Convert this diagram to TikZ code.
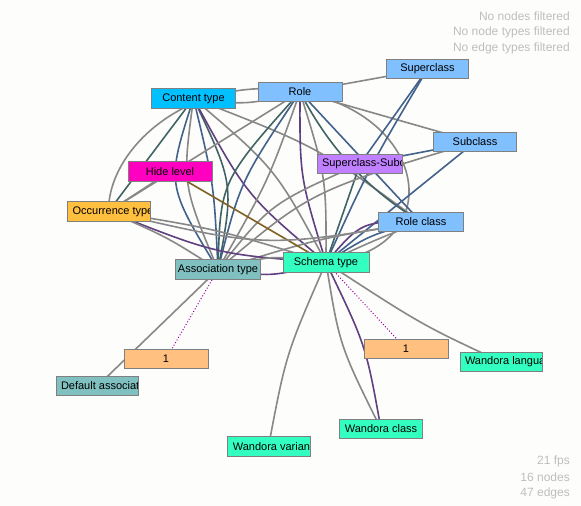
\documentclass[tikz,border=0pt]{standalone}
\usepackage{fontspec}
\setmainfont{Liberation Sans}
\usetikzlibrary{backgrounds}
\definecolor{bgc}{RGB}{253,253,252}
\definecolor{bordc}{RGB}{128,128,128}
\definecolor{egray}{RGB}{136,136,136}
\definecolor{eteal}{RGB}{64,100,100}
\definecolor{eblue}{RGB}{66,98,140}
\definecolor{epurp}{RGB}{96,64,128}
\definecolor{ebrown}{RGB}{128,96,32}
\definecolor{edot}{RGB}{160,0,160}
\definecolor{hdr}{RGB}{190,190,190}
\definecolor{cContent}{RGB}{0,192,255}
\definecolor{cRole}{RGB}{128,192,255}
\definecolor{cSSC}{RGB}{192,128,255}
\definecolor{cHide}{RGB}{255,0,192}
\definecolor{cOcc}{RGB}{255,192,64}
\definecolor{cAssoc}{RGB}{128,192,192}
\definecolor{cSchema}{RGB}{51,255,192}
\definecolor{cOne}{RGB}{255,192,128}
\begin{document}
\begin{tikzpicture}[x=1pt,y=-1pt,
  box/.style={draw=bordc, line width=1pt, minimum width=84pt, minimum height=19.5pt, inner sep=0pt, font=\fontsize{11}{13}\selectfont},
  cliptext/.style={path picture={\node[anchor=west,inner sep=0pt,font=\fontsize{11}{13}\selectfont] at ([xshift=4pt]path picture bounding box.west) {#1};}},
  ge/.style={draw=egray, line width=1.6pt},
  te/.style={draw=eteal, line width=1.6pt},
  be/.style={draw=eblue, line width=1.6pt},
  pe/.style={draw=epurp, line width=1.6pt},
  bre/.style={draw=ebrown, line width=1.6pt},
  de/.style={draw=edot, line width=1pt, dash pattern=on 1pt off 2pt},
  hdrtext/.style={anchor=east, inner sep=0pt, text=hdr, font=\fontsize{12}{14}\selectfont}]
\useasboundingbox (0,0) rectangle (581,506);
% nodes
\node[box, fill=cContent] (C) at (193.5,98.5) {Content type};
\node[box, fill=cRole] (R) at (300,92) {Role};
\node[box, fill=cRole, minimum width=82pt] (Sup) at (427.5,69) {Superclass};
\node[box, fill=cRole, minimum width=83pt] (Sub) at (475,142) {Subclass};
\node[box, fill=cSSC, minimum width=85pt, cliptext={Superclass-Subclass}] (SSC) at (360,164) {};
\node[box, fill=cHide] (Hide) at (170,171.5) {Hide level};
\node[box, fill=cOcc, minimum width=83pt, cliptext={Occurrence type}] (Occ) at (108.5,211.5) {};
\node[box, fill=cRole, minimum width=85pt] (RC) at (421,222) {Role class};
\node[box, fill=cSchema, minimum width=86pt] (Sch) at (326,262.5) {Schema type};
\node[box, fill=cAssoc, minimum width=85pt] (As) at (218,269.5) {Association type};
\node[box, fill=cOne] (L1) at (166,359) {1};
\node[box, fill=cOne] (R1) at (406,349) {1};
\node[box, fill=cAssoc, minimum width=82pt, cliptext={Default association}] (Def) at (97.5,386) {};
\node[box, fill=cSchema, minimum width=82pt, cliptext={Wandora language}] (WL) at (501.5,362) {};
\node[box, fill=cSchema, minimum width=83pt] (WC) at (381,429) {Wandora class};
\node[box, fill=cSchema, minimum width=83pt, cliptext={Wandora variant}] (WV) at (268.5,446.5) {};
% edges
\begin{pgfonlayer}{background}
\fill[bgc] (0,0) rectangle (581,506);
\draw[ge] (Occ.center) .. controls (108,145) and (195,72) .. (R.center);
\draw[ge] (R.center) -- (Sup.center);
\draw[ge] (C.center) .. controls (247,105) .. (R.center);
\draw[ge] (R.center) -- (Sub.center);
\draw[te] (C.center) -- (Occ.center);
\draw[be] (C.center) .. controls (166,184) .. (As.center);
\draw[ge] (C.center) .. controls (182,184) .. (As.center);
\draw[be] (C.center) .. controls (214,184) .. (As.center);
\draw[te] (C.center) .. controls (234,184) .. (As.center);
\draw[pe] (C.center) .. controls (246.75,195.9) .. (Sch.center);
\draw[ge] (C.center) .. controls (276,169) .. (Sch.center);
\draw[ge] (C.center) .. controls (317.6,146.6) .. (RC.center);
\draw[te] (R.center) .. controls (220.3,181.1) .. (As.center);
\draw[be] (R.center) .. controls (240.3,181.1) .. (As.center);
\draw[ge] (R.center) .. controls (268.3,181.1) .. (As.center);
\draw[pe] (R.center) .. controls (299.7,177) .. (Sch.center);
\draw[ge] (R.center) .. controls (326.3,177) .. (Sch.center);
\draw[ge] (R.center) .. controls (430,115) and (450,250) .. (Sch.center);
\draw[te] (R.center) .. controls (325,140) and (360,185) .. (RC.center);
\draw[be] (R.center) -- (RC.center);
\draw[ge] (R.center) -- (Occ.center);
\draw[be] (Sup.center) .. controls (370,166) .. (Sch.center);
\draw[be] (Sup.center) -- (SSC.center);
\draw[be] (Sub.center) -- (SSC.center);
\draw[be] (Sub.center) -- (Sch.center);
\draw[te] (SSC.center) -- (Sch.center);
\draw[ge] (SSC.center) .. controls (270.3,203.75) .. (As.center);
\draw[ge] (Sub.center) .. controls (311,191) .. (As.center);
\draw[pe] (RC.center) .. controls (362,221) .. (Sch.center);
\draw[be] (RC.center) .. controls (371.5,234) .. (Sch.center);
\draw[ge] (RC.center) .. controls (375,240) .. (Sch.center);
\draw[ge] (RC.center) .. controls (320,238) .. (As.center);
\draw[bre] (Hide.center) -- (Sch.center);
\draw[ge] (Hide.center) -- (Occ.center);
\draw[pe] (Occ.center) .. controls (217,254.4) .. (Sch.center);
\draw[ge] (Occ.center) .. controls (217,229) .. (Sch.center);
\draw[ge] (Occ.center) .. controls (167,237) .. (As.center);
\draw[ge] (Occ.center) .. controls (265,248) .. (RC.center);
\draw[pe] (As.center) .. controls (272,277) .. (Sch.center);
\draw[ge] (As.center) .. controls (272,255) .. (Sch.center);
\draw[ge] (As.center) -- (Def.center);
\draw[de] (As.center) -- (L1.center);
\draw[de] (Sch.center) -- (R1.center);
\draw[ge] (Sch.center) .. controls (286,354) .. (WV.center);
\draw[pe] (Sch.center) .. controls (366,345.5) .. (WC.center);
\draw[ge] (Sch.center) .. controls (339.5,345.5) .. (WC.center);
\draw[ge] (Sch.center) .. controls (422,325) .. (WL.center);
\end{pgfonlayer}
% status texts
\node[hdrtext] (h1) at (570,16) {No nodes filtered};
\node[hdrtext] (h2) at (570,32) {No node types filtered};
\node[hdrtext] (h3) at (570,48) {No edge types filtered};
\node[hdrtext] (f1) at (570,461) {21 fps};
\node[hdrtext] (f2) at (570,477) {16 nodes};
\node[hdrtext] (f3) at (570,493) {47 edges};
\end{tikzpicture}
\end{document}
